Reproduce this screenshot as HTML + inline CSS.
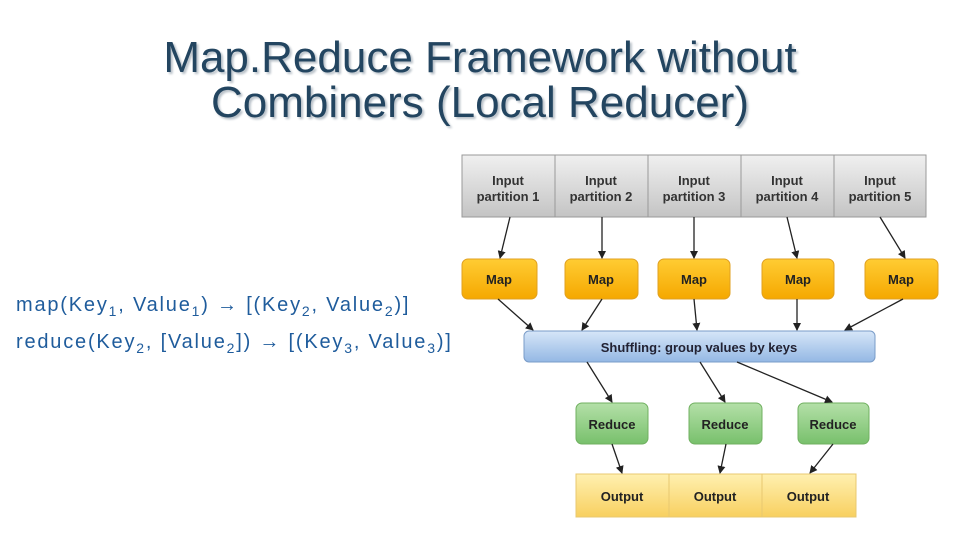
<!DOCTYPE html>
<html><head><meta charset="utf-8"><style>
body{margin:0;width:960px;height:540px;background:#fff;position:relative;overflow:hidden;font-family:"Liberation Sans",Arial,sans-serif}
.t{position:absolute;left:0;width:960px;text-align:center;font-size:44px;color:#234560;text-shadow:2px 2px 2px #b8c0c8;line-height:44px}
.l{position:absolute;left:16px;font-size:20px;letter-spacing:1.8px;color:#1f5c9c}
sub{font-size:14px}
</style></head><body>
<div class="t" style="top:36px">Map.Reduce Framework without</div>
<div class="t" style="top:81px">Combiners (Local Reducer)</div>
<div class="l" style="top:294px">map(Key<sub>1</sub>, Value<sub>1</sub>) &#8594; [(Key<sub>2</sub>, Value<sub>2</sub>)]</div>
<div class="l" style="top:331px">reduce(Key<sub>2</sub>, [Value<sub>2</sub>]) &#8594; [(Key<sub>3</sub>, Value<sub>3</sub>)]</div>
<svg width="960" height="540" style="position:absolute;left:0;top:0" font-family="Liberation Sans,Arial,sans-serif" font-weight="bold" font-size="13">
<defs>
<linearGradient id="g" x1="0" y1="0" x2="0" y2="1"><stop offset="0" stop-color="#f0f0f0"/><stop offset="1" stop-color="#c4c4c4"/></linearGradient>
<linearGradient id="o" x1="0" y1="0" x2="0" y2="1"><stop offset="0" stop-color="#ffcc33"/><stop offset="1" stop-color="#f5a800"/></linearGradient>
<linearGradient id="b" x1="0" y1="0" x2="0" y2="1"><stop offset="0" stop-color="#d6e6f8"/><stop offset="1" stop-color="#94b8e4"/></linearGradient>
<linearGradient id="gr" x1="0" y1="0" x2="0" y2="1"><stop offset="0" stop-color="#b4e0a8"/><stop offset="1" stop-color="#78c06c"/></linearGradient>
<linearGradient id="y" x1="0" y1="0" x2="0" y2="1"><stop offset="0" stop-color="#fff0b0"/><stop offset="1" stop-color="#f8d060"/></linearGradient>
<marker id="a" markerWidth="8" markerHeight="8" refX="7" refY="4" orient="auto" markerUnits="userSpaceOnUse"><path d="M0,0L8,4L0,8z" fill="#222"/></marker>
</defs>
<g stroke="#999" fill="url(#g)">
<rect x="462" y="155" width="93" height="62"/><rect x="555" y="155" width="93" height="62"/><rect x="648" y="155" width="93" height="62"/><rect x="741" y="155" width="93" height="62"/><rect x="834" y="155" width="92" height="62"/>
</g>
<g fill="#333" text-anchor="middle">
<text x="508" y="185">Input</text><text x="508" y="201">partition 1</text>
<text x="601" y="185">Input</text><text x="601" y="201">partition 2</text>
<text x="694" y="185">Input</text><text x="694" y="201">partition 3</text>
<text x="787" y="185">Input</text><text x="787" y="201">partition 4</text>
<text x="880" y="185">Input</text><text x="880" y="201">partition 5</text>
</g>
<g fill="url(#o)" stroke="#e0a020">
<rect x="462" y="259" width="75" height="40" rx="6"/><rect x="565" y="259" width="73" height="40" rx="6"/><rect x="658" y="259" width="72" height="40" rx="6"/><rect x="762" y="259" width="72" height="40" rx="6"/><rect x="865" y="259" width="73" height="40" rx="6"/>
</g>
<g fill="#222" text-anchor="middle">
<text x="499" y="284">Map</text><text x="601" y="284">Map</text><text x="694" y="284">Map</text><text x="798" y="284">Map</text><text x="901" y="284">Map</text>
</g>
<rect x="524" y="331" width="351" height="31" rx="5" fill="url(#b)" stroke="#7a9cc8"/>
<text x="699" y="352" text-anchor="middle" fill="#223">Shuffling: group values by keys</text>
<g fill="url(#gr)" stroke="#70b060">
<rect x="576" y="403" width="72" height="41" rx="6"/><rect x="689" y="403" width="73" height="41" rx="6"/><rect x="798" y="403" width="71" height="41" rx="6"/>
</g>
<g fill="#222" text-anchor="middle">
<text x="612" y="429">Reduce</text><text x="725" y="429">Reduce</text><text x="833" y="429">Reduce</text>
</g>
<g fill="url(#y)" stroke="#e8c870">
<rect x="576" y="474" width="93" height="43"/><rect x="669" y="474" width="93" height="43"/><rect x="762" y="474" width="94" height="43"/>
</g>
<g fill="#222" text-anchor="middle">
<text x="622" y="501">Output</text><text x="715" y="501">Output</text><text x="808" y="501">Output</text>
</g>
<g stroke="#222" stroke-width="1.3" marker-end="url(#a)">
<line x1="510" y1="217" x2="500" y2="258"/><line x1="602" y1="217" x2="602" y2="258"/><line x1="694" y1="217" x2="694" y2="258"/><line x1="787" y1="217" x2="797" y2="258"/><line x1="880" y1="217" x2="905" y2="258"/>
<line x1="498" y1="299" x2="533" y2="330"/><line x1="602" y1="299" x2="582" y2="330"/><line x1="694" y1="299" x2="697" y2="330"/><line x1="797" y1="299" x2="797" y2="330"/><line x1="903" y1="299" x2="845" y2="330"/>
<line x1="587" y1="362" x2="612" y2="402"/><line x1="700" y1="362" x2="725" y2="402"/><line x1="737" y1="362" x2="832" y2="402"/>
<line x1="612" y1="444" x2="622" y2="473"/><line x1="726" y1="444" x2="720" y2="473"/><line x1="833" y1="444" x2="810" y2="473"/>
</g>
</svg>
</body></html>
